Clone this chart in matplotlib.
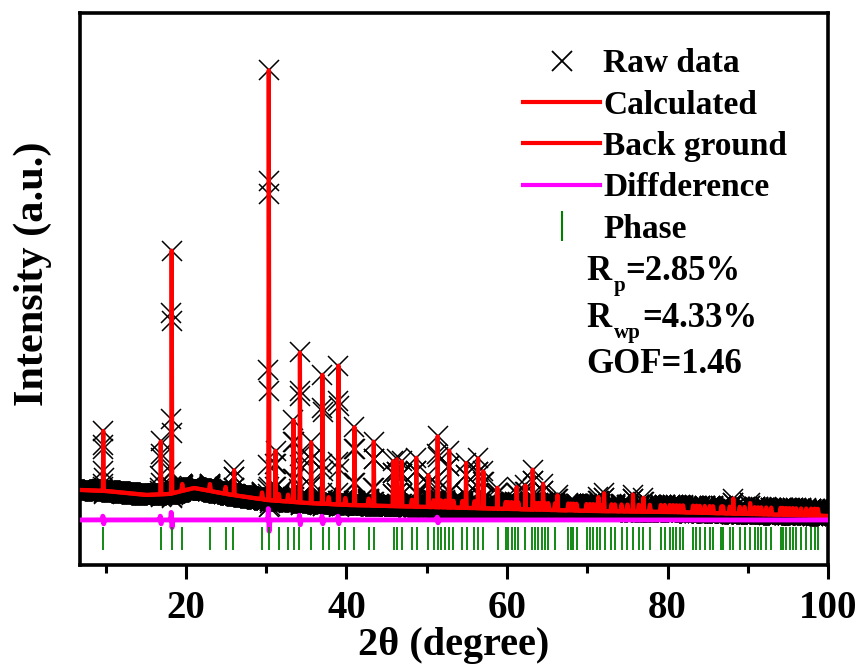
import matplotlib
matplotlib.use("Agg")

import matplotlib.pyplot as plt
import numpy as np
from matplotlib.lines import Line2D
from matplotlib.ticker import MultipleLocator

plt.rcParams["font.family"] = ["Liberation Serif", "DejaVu Serif"]
plt.rcParams["font.weight"] = "bold"

# --- data (arbitrary intensity units) ---
bg_x = [7, 10, 15, 18, 21, 25, 30, 35, 40, 50, 60, 70, 80, 90, 100]
bg_y = [75, 74, 70, 71, 77, 71, 65, 62, 60, 58, 56, 54, 53, 51, 49]

peak_pos = [9.70, 16.86, 18.22, 26.00, 30.32, 31.16, 33.40, 34.20, 35.60,
            37.00, 39.00, 41.00, 43.40, 45.80, 46.30, 46.90, 48.70, 50.20, 51.36,
            52.80, 54.90, 56.40, 57.06, 58.80, 61.20, 62.30, 63.20, 64.50, 66.30,
            71.40, 72.10, 75.70, 77.00, 88.20, 90.30]
peak_h = [60, 53, 243, 25, 430, 50, 82, 150, 61,
          129, 139, 78, 64, 45, 47, 45, 49, 32, 71,
          57, 45, 50, 37, 21, 22, 24, 40, 26, 15,
          14, 18, 17, 14, 15, 11]

# reflection markers (Phase)
phase_pos = [9.68, 16.85, 18.22, 19.54, 22.99, 24.94, 25.91, 29.49, 30.41, 31.57,
             32.72, 33.43, 34.14, 35.63, 37.04, 37.79, 39.03, 39.86, 40.93, 42.76,
             43.38, 45.87, 46.28, 46.90, 48.15, 48.77, 50.22, 50.85, 51.38, 51.80,
             52.30, 52.80, 53.33, 54.45, 54.99, 55.95, 56.44, 57.06, 58.93, 59.84,
             60.17, 60.58, 61.01, 61.42, 62.25, 63.16, 63.49, 63.91, 64.32, 64.74,
             65.15, 65.98, 67.64, 67.97, 68.26, 68.67, 69.91, 70.34, 70.75, 71.16,
             71.58, 72.20, 73.02, 73.45, 74.27, 75.01, 75.72, 76.43, 76.97, 77.80,
             79.17, 79.66, 80.28, 80.70, 81.11, 81.53, 81.94, 83.18, 83.60, 84.02,
             84.64, 85.26, 85.67, 86.71, 86.92, 87.75, 88.16, 88.99, 89.61, 90.24,
             90.86, 91.27, 91.68, 92.30, 92.92, 94.09, 94.38, 94.79, 95.21, 95.62,
             96.03, 96.65, 97.28, 97.89, 98.32, 98.73]
weak_h = 7  # weak reflections at the remaining phase positions

# misfit around the strongest lines (obs - calc)
resid_pos = [9.7, 16.86, 18.22, 30.32, 34.2, 37.0, 39.0, 51.36]
resid_amp = [4, 4, 8, 12, 5, 4, 4, 3]

diff_offset = 45
phase_lo, phase_hi = 15, 38

# --- build profile ---
x = 6.8 + 0.02 * np.arange(4661)
sig = 0.025
background = np.interp(x, bg_x, bg_y)
calc = background.copy()
for p, h in zip(peak_pos, peak_h):
    calc += h * np.exp(-0.5 * ((x - p) / sig) ** 2)
for p in phase_pos:
    if min(abs(p - q) for q in peak_pos) > 0.15:
        calc += weak_h * np.exp(-0.5 * ((x - p) / (2.5 * sig)) ** 2)

resid = np.zeros_like(x)
for p, a in zip(resid_pos, resid_amp):
    resid += a * np.exp(-0.5 * ((x - p + 0.05) / 0.04) ** 2)
    resid -= a * np.exp(-0.5 * ((x - p - 0.05) / 0.04) ** 2)
raw = calc + resid
diff = raw - calc + diff_offset

# --- plot ---
fig = plt.figure(figsize=(8.61, 6.66), dpi=100)
ax = fig.add_axes([0.0929, 0.1517, 0.8688, 0.8288])

ax.plot(x, raw, ls="none", marker="x", ms=14, mew=1.1, color="black", zorder=2)
ax.plot(x, background, color="red", lw=3, zorder=3)
ax.plot(x, calc, color="red", lw=3, zorder=4)
ax.plot(x, diff, color="magenta", lw=3.5, zorder=4)
ax.vlines(phase_pos, phase_lo, phase_hi, color="green", lw=1.3, zorder=4)

ax.set_xlim(6.8, 100)
ax.set_ylim(0, 552)
ax.xaxis.set_major_locator(MultipleLocator(20))
ax.xaxis.set_minor_locator(MultipleLocator(10))
ax.set_yticks([])
ax.tick_params(axis="x", which="major", direction="out", length=10, width=2.2,
               labelsize=28, pad=8)
ax.tick_params(axis="x", which="minor", direction="out", length=6, width=2.2)
for lab in ax.get_xticklabels():
    lab.set_fontweight("bold")
for s in ax.spines.values():
    s.set_linewidth(2.6)

ax.set_xlabel("2θ (degree)", fontsize=29, fontweight="bold", labelpad=0)
ax.set_ylabel("Intensity (a.u.)", fontsize=30.5, fontweight="bold")
ax.yaxis.set_label_coords(-0.037, 0.527)

handles = [
    Line2D([], [], ls="none", marker="x", ms=14, mew=1.3, color="black"),
    Line2D([], [], color="red", lw=3),
    Line2D([], [], color="red", lw=3),
    Line2D([], [], color="magenta", lw=3),
    Line2D([], [], ls="none", marker="|", ms=22, mew=1.5, color="green"),
]
labels = ["Raw data", "Calculated", "Back ground", "Diffderence", "Phase"]
fig.legend(handles, labels, loc="upper left", bbox_to_anchor=(510 / 861, 1 - 35 / 666),
           frameon=False, handlelength=2.3, handletextpad=0.1, labelspacing=0.31,
           borderaxespad=0, prop={"family": "Liberation Serif", "weight": "bold", "size": 24})

# fit statistics: main text, subscript, rest
stats = [("R", "p", "=2.85%", 280, 614, 625),
         ("R", "wp", "=4.33%", 327, 614, 642)]
for main, sub, rest, yy, xs, xr in stats:
    fig.text(586 / 861, 1 - yy / 666, main, fontsize=25, fontweight="bold", va="baseline")
    fig.text(xs / 861, 1 - (yy + 11) / 666, sub, fontsize=15, fontweight="bold", va="baseline")
    fig.text(xr / 861, 1 - yy / 666, rest, fontsize=25, fontweight="bold", va="baseline")
fig.text(586 / 861, 1 - 373 / 666, "GOF=1.46", fontsize=25, fontweight="bold", va="baseline")

fig.savefig("out.png", dpi=100)
